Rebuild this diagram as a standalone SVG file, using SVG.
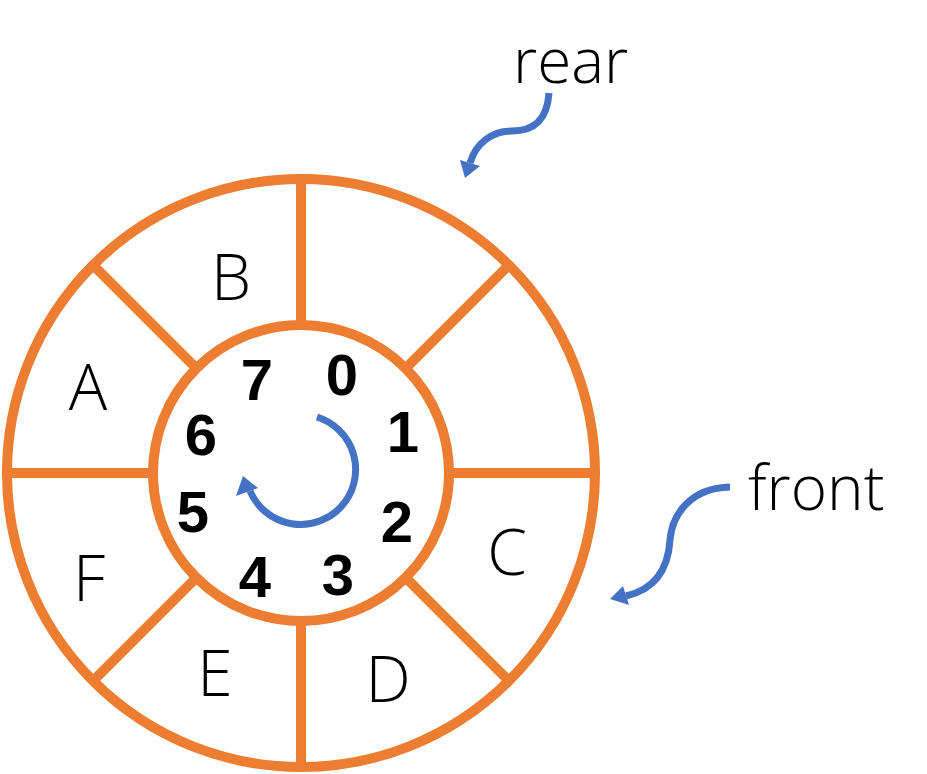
<svg xmlns="http://www.w3.org/2000/svg" width="927" height="774" viewBox="0 0 927 774">
<style>
.ring{fill:none;stroke:#ED7D31;stroke-width:10}
.div{stroke:#ED7D31;stroke-width:10;stroke-linecap:butt}
.lbl{font-family:"Open Sans","Noto Sans","Liberation Sans",sans-serif;font-weight:300;font-size:64px;fill:#000;text-anchor:middle}
.num{font-family:"Liberation Sans",Arial,sans-serif;font-weight:bold;font-size:58px;fill:#000;text-anchor:middle}
.note{font-family:"Open Sans","Noto Sans","Liberation Sans",sans-serif;font-weight:300;font-size:62px;fill:#000}
.arr{fill:none;stroke:#4472C4;stroke-width:7}
.head{fill:#4472C4}
</style>
<rect width="927" height="774" fill="#fff"/>
<g id="ring">
<circle class="ring" cx="301" cy="473" r="294"/>
<circle class="ring" cx="301" cy="473" r="148"/>
<line class="div" x1="301" y1="179" x2="301" y2="325"/>
<line class="div" x1="301" y1="621" x2="301" y2="767"/>
<line class="div" x1="7" y1="473" x2="153" y2="473"/>
<line class="div" x1="449" y1="473" x2="595" y2="473"/>
<line class="div" x1="93" y1="265" x2="196" y2="368"/>
<line class="div" x1="509" y1="265" x2="406" y2="368"/>
<line class="div" x1="93" y1="681" x2="196" y2="578"/>
<line class="div" x1="509" y1="681" x2="406" y2="578"/>
</g>
<g id="slots">
<text class="lbl" x="88" y="410">A</text>
<text class="lbl" x="231" y="300">B</text>
<text class="lbl" x="507" y="575">C</text>
<text class="lbl" x="388" y="702">D</text>
<text class="lbl" x="215" y="696">E</text>
<text class="lbl" x="89" y="601">F</text>
</g>
<g id="indices">
<text class="num" x="342" y="395">0</text>
<text class="num" x="403" y="452">1</text>
<text class="num" x="397" y="542">2</text>
<text class="num" x="338" y="595">3</text>
<text class="num" x="255" y="597">4</text>
<text class="num" x="193" y="532">5</text>
<text class="num" x="201" y="455">6</text>
<text class="num" x="257" y="400">7</text>
</g>
<g id="labels">
<text class="note" x="513" y="83">rear</text>
<text class="note" x="748" y="510">front</text>
</g>
<g id="connectors">
<path class="arr" d="M317,417 A55,55 0 1 1 250,491"/>
<polygon class="head" points="243,476 236,496 258,488"/>
<path class="arr" d="M549,93 C547,122 532,131 512,131 C492,131 476,143 470,163"/>
<polygon class="head" points="465,178 460,160 480,166"/>
<path class="arr" d="M730,487 C690,488 672,515 670,540 C668,572 652,590 626,596"/>
<polygon class="head" points="610,599 623,586 629,605"/>
</g>
</svg>
